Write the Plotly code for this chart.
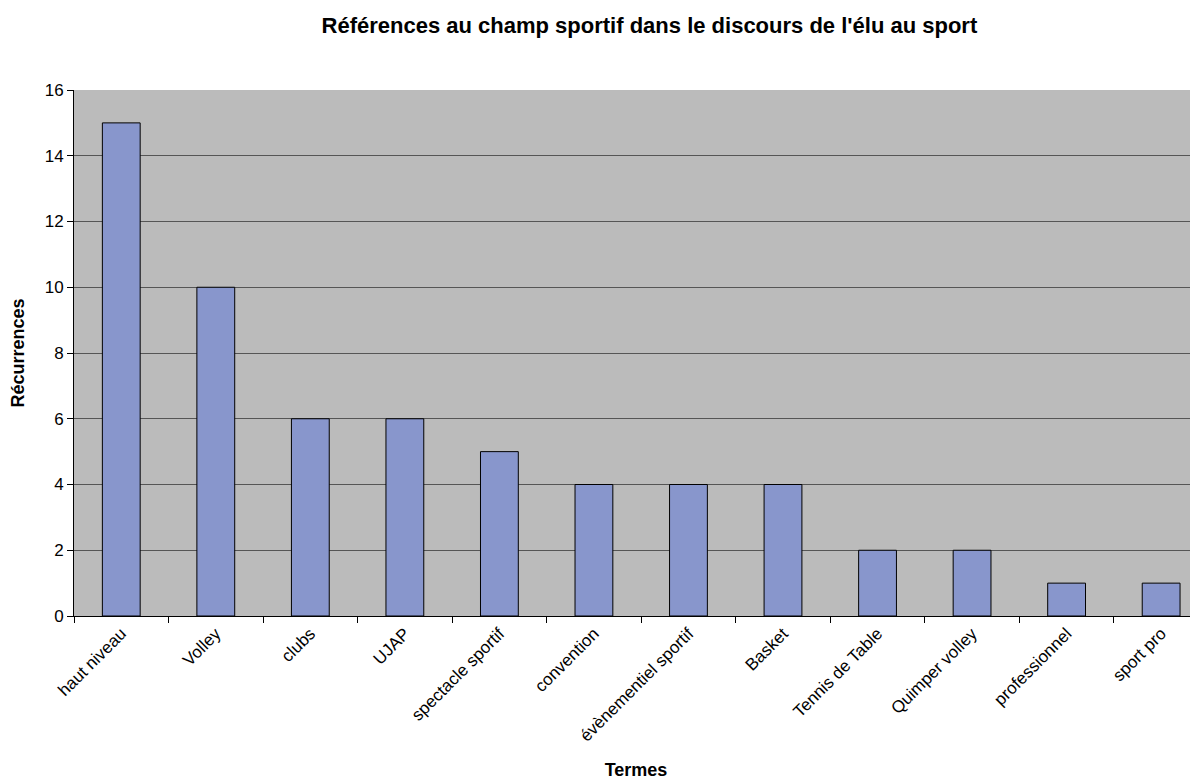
import plotly.graph_objects as go

# Terms and their counts
termes = ["haut niveau", "Volley", "clubs", "UJAP", "spectacle sportif", "convention",
          "évènementiel sportif", "Basket", "Tennis de Table", "Quimper volley",
          "professionnel", "sport pro"]
recurrences = [15, 10, 6, 6, 5, 4, 4, 4, 2, 2, 1, 1]

fig = go.Figure()

fig.add_trace(go.Bar(
    x=termes,
    y=recurrences,
    marker=dict(color="#8896CC", line=dict(color="#000000", width=1)),
))

# page body has an 8px margin, so the figure is shrunk to fit the 1198x780 window
# the original plot area runs a little past the right edge, hence the cut x range
fig.update_layout(
    title=dict(text="<b>Références au champ sportif dans le discours de l'élu au sport</b>",
               x=0.539, xanchor="center", y=0.978, yanchor="middle",
               font=dict(size=22, color="#000000")),
    font=dict(family="Liberation Sans, Arial, sans-serif", size=17, color="#000000"),
    width=1190, height=772,
    paper_bgcolor="white",
    plot_bgcolor="#BBBBBB",
    bargap=0.6,
    showlegend=False,
    margin=dict(l=66, r=0, t=82, b=164),
    xaxis=dict(
        title=dict(text="<b>Termes</b>", font=dict(size=18), standoff=22),
        range=[-0.5, 11.39],
        tickangle=-45,
        tickson="boundaries",
        ticks="outside", ticklen=6, tickcolor="#000000",
        showline=True, linecolor="#000000", linewidth=1,
        showgrid=False,
        automargin=False,
    ),
    yaxis=dict(
        title=dict(text="<b>Récurrences</b>", font=dict(size=18), standoff=24),
        range=[0, 16], dtick=2,
        ticks="outside", ticklen=6, tickcolor="#000000",
        showline=True, linecolor="#000000", linewidth=1,
        gridcolor="#555555", gridwidth=1,
        zeroline=False,
        automargin=False,
    ),
)

fig.write_html("out.html")
